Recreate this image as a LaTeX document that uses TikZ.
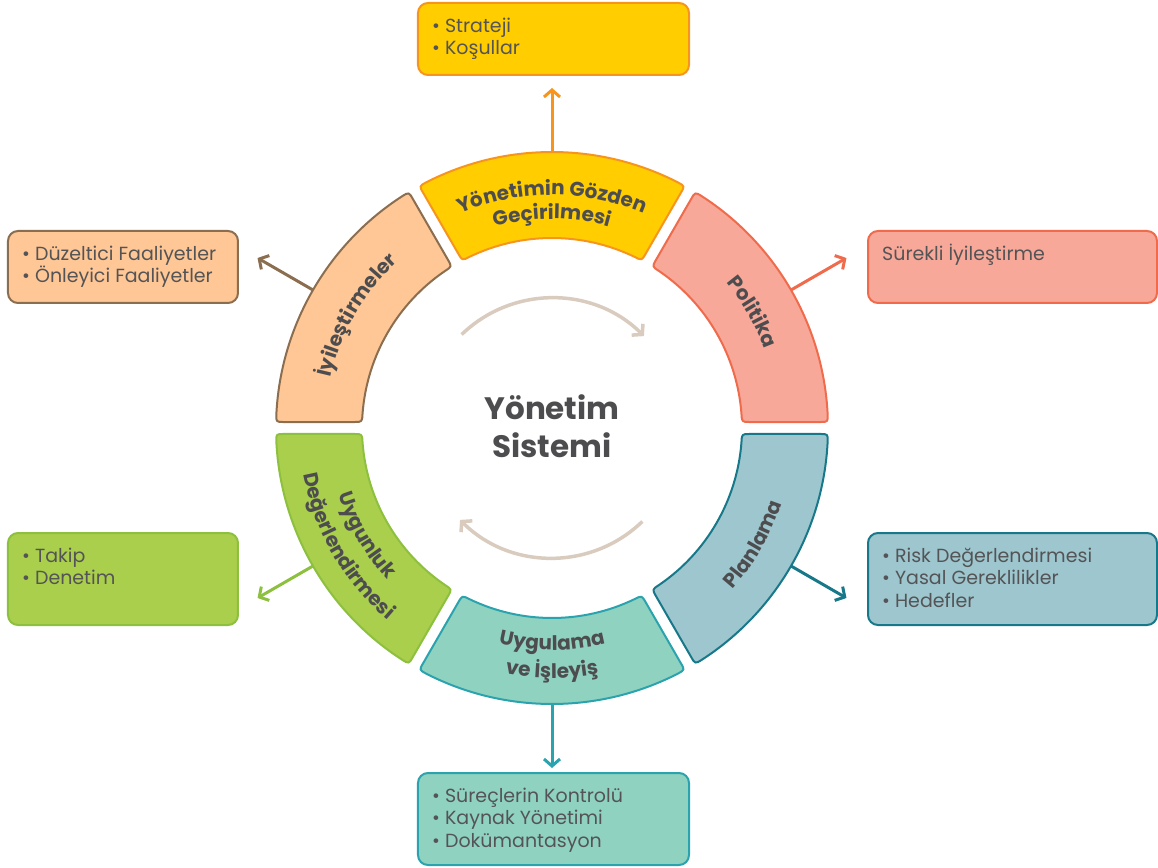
\documentclass[tikz,border=0pt]{standalone}
\usepackage{fontspec}
\setmainfont{Poppins}
\usetikzlibrary{arrows.meta,decorations.text}
\definecolor{txt}{HTML}{4D4D4F}
\definecolor{btxt}{HTML}{545456}
\definecolor{yelF}{HTML}{FFCD00}\definecolor{yelD}{HTML}{F7941D}
\definecolor{salF}{HTML}{F7A898}\definecolor{salD}{HTML}{EF6B4C}
\definecolor{bluF}{HTML}{9EC6CE}\definecolor{bluD}{HTML}{17788A}
\definecolor{teaF}{HTML}{90D2C0}\definecolor{teaD}{HTML}{2AA3AE}
\definecolor{greF}{HTML}{A9CF4C}\definecolor{greD}{HTML}{8EC03F}
\definecolor{peaF}{HTML}{FEC795}\definecolor{peaD}{HTML}{8B6D4F}
\definecolor{cyc}{HTML}{D9CBBE}
\newcommand{\segfont}{\fontsize{20}{24}\selectfont\bfseries}
\newcommand{\ringseg}[3]{%
 \pgfmathsetmacro\rsA{#1+asin(6/198)}%
 \pgfmathsetmacro\rsB{#1+asin(6/268)}%
 \pgfmathsetmacro\rsBo{#1+asin(6/276)+1.66}%
 \pgfmathsetmacro\rsCo{#2-asin(6/276)-1.66}%
 \pgfmathsetmacro\rsC{#2-asin(6/268)}%
 \pgfmathsetmacro\rsD{#2-asin(6/198)}%
 \pgfmathsetmacro\rsDi{#2-asin(6/190)-2.41}%
 \pgfmathsetmacro\rsAi{#1+asin(6/190)+2.41}%
 \pgfmathsetmacro\rscA{#1+asin(6/190)}%
 \pgfmathsetmacro\rscB{#1+asin(6/276)}%
 \pgfmathsetmacro\rscC{#2-asin(6/276)}%
 \pgfmathsetmacro\rscD{#2-asin(6/190)}%
 \draw[segline,#3] (\rsA:198) -- (\rsB:268) .. controls (\rscB:276) .. (\rsBo:276)
   arc[start angle=\rsBo, end angle=\rsCo, radius=276] .. controls (\rscC:276) .. (\rsC:268)
   -- (\rsD:198) .. controls (\rscD:190) .. (\rsDi:190)
   arc[start angle=\rsDi, end angle=\rsAi, radius=190] .. controls (\rscA:190) .. (\rsA:198) -- cycle;}
\tikzset{
  segline/.style={line width=2pt, line join=round},
  seglabel/.style={decorate, decoration={text along path, text align=center, text color=txt, text={|\segfont|#1}}},
  box/.style={rounded corners=10pt, line width=2pt, minimum height=#1, inner sep=0pt},
  boxtext/.style={anchor=north west, align=left, inner sep=0pt, text=btxt, font=\fontsize{19}{22.5}\selectfont},
  outarrow/.style={line width=3pt, -{Straight Barb[length=7pt,width=16pt]}},
  cycarrow/.style={line width=3.5pt, draw=cyc, -{Straight Barb[length=7pt,width=16pt]}},
}
\begin{document}
\begin{tikzpicture}[x=1pt,y=1pt]
\useasboundingbox (-552,-439) rectangle (606,428);
% ring segments
\ringseg{60}{120}{fill=yelF, draw=yelD}
\ringseg{0}{60}{fill=salF, draw=salD}
\ringseg{-60}{0}{fill=bluF, draw=bluD}
\ringseg{240}{300}{fill=teaF, draw=teaD}
\ringseg{180}{240}{fill=greF, draw=greD}
\ringseg{120}{180}{fill=peaF, draw=peaD}
% segment labels
\path[seglabel={Yönetimin Gözden}] (122:233) arc[start angle=122, end angle=58, radius=233];
\path[seglabel={Geçirilmesi}] (122:209) arc[start angle=122, end angle=58, radius=209];
\path[seglabel={Politika}] (58:227) arc[start angle=58, end angle=2, radius=227];
\path[seglabel={Planlama}] (-58:242) arc[start angle=-58, end angle=-2, radius=242];
\path[seglabel={Uygulama}] (242:222) arc[start angle=242, end angle=298, radius=222];
\path[seglabel={ve İşleyiş}] (242:250) arc[start angle=242, end angle=298, radius=250];
\path[seglabel={Uygunluk}] (182:224) arc[start angle=182, end angle=238, radius=224];
\path[seglabel={Değerlendirmesi}] (182:253) arc[start angle=182, end angle=238, radius=253];
\path[seglabel={İyileştirmeler}] (178:227) arc[start angle=178, end angle=122, radius=227];
% centre
\node[text=txt, align=center, font=\fontsize{31}{38}\selectfont\bfseries] (centre) at (0,2) {Yönetim\\Sistemi};
\coordinate (cA) at (134:130);
\coordinate (cB) at (-46:130);
\draw[cycarrow] (cA) arc[start angle=134, end angle=45, radius=130];
\draw[cycarrow] (cB) arc[start angle=-46, end angle=-135, radius=130];
% boxes
\node[box=72pt, minimum width=271pt, fill=yelF, draw=yelD] (bTop) at (1.5,389) {};
\node[box=72pt, minimum width=289pt, fill=salF, draw=salD] (bPol) at (460.5,161) {};
\node[box=92pt, minimum width=289pt, fill=bluF, draw=bluD] (bPla) at (460.5,-151) {};
\node[box=92pt, minimum width=271pt, fill=teaF, draw=teaD] (bUyg) at (1.5,-391) {};
\node[box=92pt, minimum width=230pt, fill=greF, draw=greD] (bDeg) at (-429,-151) {};
\node[box=72pt, minimum width=230pt, fill=peaF, draw=peaD] (bIyi) at (-429,161) {};
\node[boxtext] (tTop) at ([shift={(15,-13)}]bTop.north west) {\rule{0pt}{17pt}• Strateji\\• Koşullar};
\node[boxtext] (tPol) at ([shift={(15,-13)}]bPol.north west) {\rule{0pt}{17pt}Sürekli İyileştirme};
\node[boxtext] (tPla) at ([shift={(15,-13)}]bPla.north west) {\rule{0pt}{17pt}• Risk Değerlendirmesi\\• Yasal Gereklilikler\\• Hedefler};
\node[boxtext] (tUyg) at ([shift={(15,-13)}]bUyg.north west) {\rule{0pt}{17pt}• Süreçlerin Kontrolü\\• Kaynak Yönetimi\\• Dokümantasyon};
\node[boxtext] (tDeg) at ([shift={(15,-13)}]bDeg.north west) {\rule{0pt}{17pt}• Takip\\• Denetim};
\node[boxtext] (tIyi) at ([shift={(15,-13)}]bIyi.north west) {\rule{0pt}{17pt}• Düzeltici Faaliyetler\\• Önleyici Faaliyetler};
% outward arrows
\foreach \a/\n in {90/1,30/2,-30/3,270/4,210/5,150/6}{
  \coordinate (s\n) at (\a:276);
  \coordinate (e\n) at (\a:340);
}
\draw[outarrow, draw=yelD] (s1) -- (e1);
\draw[outarrow, draw=salD] (s2) -- (e2);
\draw[outarrow, draw=bluD] (s3) -- (e3);
\draw[outarrow, draw=teaD] (s4) -- (e4);
\draw[outarrow, draw=greD] (s5) -- (e5);
\draw[outarrow, draw=peaD] (s6) -- (e6);
\end{tikzpicture}
\end{document}
